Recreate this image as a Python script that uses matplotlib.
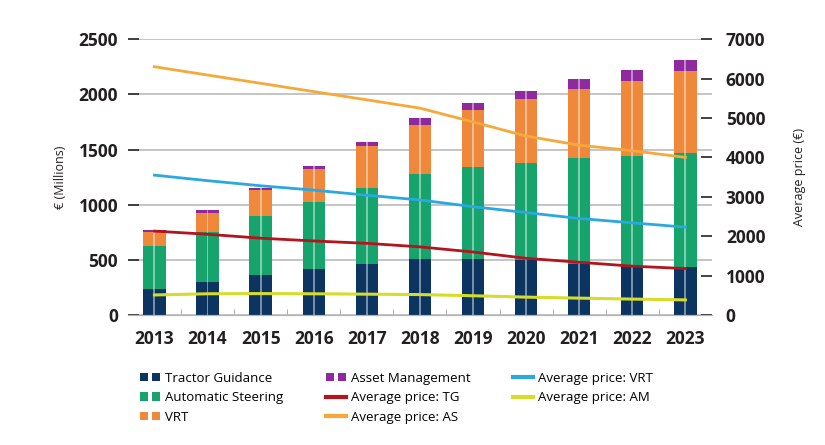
import numpy as np
import matplotlib.pyplot as plt
from matplotlib.patches import Patch
from matplotlib.lines import Line2D
from matplotlib.legend_handler import HandlerTuple

plt.rcParams['font.family'] = ['Open Sans', 'DejaVu Sans']

years = ['2013', '2014', '2015', '2016', '2017', '2018', '2019', '2020', '2021', '2022', '2023']

# market value, € millions (stacked)
tractor_guidance = [240, 300, 365, 415, 465, 505, 505, 495, 465, 445, 440]
auto_steering = [385, 450, 535, 610, 685, 775, 840, 885, 955, 1000, 1030]
vrt = [130, 175, 230, 295, 385, 445, 510, 575, 625, 680, 745]
asset_mgmt = [20, 25, 25, 35, 35, 60, 65, 75, 90, 100, 100]

# average prices, €
price_vrt = [3550, 3410, 3280, 3170, 3040, 2920, 2750, 2600, 2450, 2340, 2230]
price_tg = [2130, 2050, 1950, 1880, 1820, 1730, 1600, 1440, 1340, 1240, 1180]
price_as = [6300, 6090, 5880, 5670, 5460, 5250, 4900, 4540, 4310, 4170, 4000]
price_am = [510, 540, 545, 540, 530, 520, 490, 455, 430, 405, 385]

c_tg = '#0b3560'
c_as = '#16a36c'
c_vrt = '#f0883c'
c_am = '#8e2a9e'
c_line_vrt = '#2aa8e0'
c_line_tg = '#b3141d'
c_line_as = '#f6a93a'
c_line_am = '#d5dc2a'

x = np.arange(len(years))
w = 0.42

fig = plt.figure(figsize=(8.25, 4.45), dpi=100)
ax = fig.add_axes([0.155, 0.292, 0.708, 0.62])
ax2 = ax.twinx()

b1 = np.array(tractor_guidance)
b2 = b1 + np.array(auto_steering)
b3 = b2 + np.array(vrt)
ax.bar(x, tractor_guidance, w, color=c_tg, zorder=2)
ax.bar(x, auto_steering, w, bottom=b1, color=c_as, zorder=2)
ax.bar(x, vrt, w, bottom=b2, color=c_vrt, zorder=2)
ax.bar(x, asset_mgmt, w, bottom=b3, color=c_am, zorder=2)
# light highlight stripe down the middle of each bar
ax.bar(x, b3 + np.array(asset_mgmt), 0.035, color='white', alpha=0.45, zorder=3)

ax.set_xlim(-0.5, 10.5)
ax.set_ylim(0, 2500)
ax.set_yticks(np.arange(0, 2501, 500))
ax.grid(axis='y', color='#b4b4b4', linewidth=1.1, zorder=0)
ax.set_axisbelow(True)
ax.set_xticks(x)
ax.set_xticklabels(years)
ax.set_xticks(x[:-1] + 0.5, minor=True)
ax.tick_params(axis='x', which='major', length=0, pad=11, labelsize=12.5, labelcolor='#231f20')
ax.tick_params(axis='x', which='minor', direction='in', length=4, color='#a0a0a0')
ax.tick_params(axis='y', direction='in', length=8, width=1.3, color='#333333', pad=7,
               labelsize=12.5, labelcolor='#231f20')
for lab in ax.get_xticklabels() + ax.get_yticklabels():
    lab.set_fontweight('bold')
ax.set_ylabel('€ (Millions)', fontsize=9, color='#231f20', labelpad=8)

ax2.plot(x, price_vrt, color=c_line_vrt, lw=2, zorder=4)
ax2.plot(x, price_tg, color=c_line_tg, lw=2, zorder=4)
ax2.plot(x, price_as, color=c_line_as, lw=2, zorder=4)
ax2.plot(x, price_am, color=c_line_am, lw=2.2, zorder=4)
ax2.set_ylim(0, 7000)
ax2.set_yticks(np.arange(0, 7001, 1000))
ax2.tick_params(axis='y', direction='in', length=8, width=1.3, color='#333333', pad=10,
                labelsize=12.5, labelcolor='#231f20')
for lab in ax2.get_yticklabels():
    lab.set_fontweight('bold')
ax2.set_ylabel('Average price (€)', fontsize=9, color='#231f20', labelpad=20)

for a in (ax, ax2):
    for s in ('top', 'left', 'right'):
        a.spines[s].set_visible(False)
    a.spines['bottom'].set_color('#b4b4b4')

def bar_handle(c):
    p = Patch(facecolor=c, edgecolor='none')
    return (p, p)

handles = [
    bar_handle(c_tg), bar_handle(c_as), bar_handle(c_vrt),
    bar_handle(c_am),
    Line2D([], [], color=c_line_tg, lw=3),
    Line2D([], [], color=c_line_as, lw=3),
    Line2D([], [], color=c_line_vrt, lw=3),
    Line2D([], [], color=c_line_am, lw=3),
]
labels = ['Tractor Guidance', 'Automatic Steering', 'VRT', 'Asset Management',
          'Average price: TG', 'Average price: AS', 'Average price: VRT', 'Average price: AM']
fig.legend(handles, labels, ncol=3, loc='upper left', bbox_to_anchor=(0.170, 0.165),
           bbox_transform=fig.transFigure, frameon=False, fontsize=9.5,
           handler_map={tuple: HandlerTuple(ndivide=None, pad=0.3)},
           handlelength=1.5, handleheight=0.6, handletextpad=0.4,
           columnspacing=3.2, labelspacing=0.5, borderaxespad=0, borderpad=0)

fig.savefig('out.png', dpi=100)
